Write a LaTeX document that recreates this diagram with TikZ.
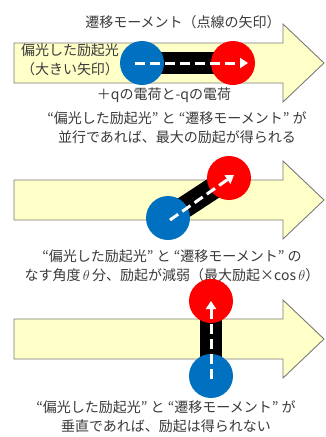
\documentclass[tikz,border=0pt]{standalone}
\usepackage{fontspec}
\setmainfont{Noto Sans CJK JP}
\usetikzlibrary{arrows.meta}
\definecolor{arrowfill}{HTML}{FFFFC8}
\definecolor{arrowline}{HTML}{7A7A7A}
\definecolor{qblue}{HTML}{0070C0}
\definecolor{qred}{HTML}{FF0000}
\definecolor{txt}{HTML}{3A3A3A}
\tikzset{
  bigarrow/.style={fill=arrowfill, draw=arrowline, line width=0.9pt, line join=miter},
  charge/.style={circle, inner sep=0pt, minimum size=44pt},
  negq/.style={charge, fill=qblue},
  posq/.style={charge, fill=qred},
  bond/.style={line width=22pt, black},
  moment/.style={white, line width=3pt, dash pattern=on 10pt off 5pt,
    -{Triangle[length=8pt,width=10pt]}},
  lbl/.style={text=txt, font=\fontsize{14pt}{19pt}\selectfont, inner sep=0pt, align=center}
}
\begin{document}
\begin{tikzpicture}[x=1pt,y=-1pt]
\useasboundingbox (0,0) rectangle (325,437);
\fill[white] (0,0) rectangle (325,437);
% ---------- panel 1 ----------
\draw[bigarrow] (14,43) -- (283,43) -- (283,24) -- (324,63) -- (283,102) -- (283,83) -- (14,83) -- cycle;
\node[lbl] (t1) at (183,22) {遷移モーメント（点線の矢印）};
\node[lbl] (t2) at (70,60) {偏光した励起光\\（大きい矢印）};
\draw[bond] (142,63) -- (233,63);
\node[negq] (b1) at (142,63) {};
\node[posq] (r1) at (233,63) {};
\coordinate (m1s) at (135,63);
\coordinate (m1e) at (248,63);
\draw[moment] (m1s) -- (m1e);
\node[lbl] (t3) at (164,95) {＋qの電荷と-qの電荷};
\node[lbl] (t4) at (177,127.5) {“偏光した励起光” と “遷移モーメント” が\\並行であれば、最大の励起が得られる};
% ---------- panel 2 ----------
\draw[bigarrow] (14,180) -- (283,180) -- (283,161) -- (324,200) -- (283,239) -- (283,220) -- (14,220) -- cycle;
\draw[bond] (168,218) -- (229,178);
\node[negq] (b2) at (168,218) {};
\node[posq] (r2) at (229,178) {};
\coordinate (m2s) at (170,220);
\coordinate (m2e) at (234,175);
\draw[moment] (m2s) -- (m2e);
\node[lbl] (t5) at (172,265.5) {“偏光した励起光” と “遷移モーメント” の\\なす角度\,$\theta$\,分、励起が減弱（最大励起×cos\,$\theta$）};
% ---------- panel 3 ----------
\draw[bigarrow] (14,319) -- (283,319) -- (283,300) -- (324,339) -- (283,378) -- (283,359) -- (14,359) -- cycle;
\draw[bond] (211,376) -- (211,301);
\node[negq] (b3) at (211,376) {};
\node[posq] (r3) at (211,301) {};
\coordinate (m3s) at (211,379);
\coordinate (m3e) at (211,301);
\draw[moment] (m3s) -- (m3e);
\node[lbl] (t6) at (166,417) {“偏光した励起光” と “遷移モーメント” が\\垂直であれば、励起は得られない};
\end{tikzpicture}
\end{document}
